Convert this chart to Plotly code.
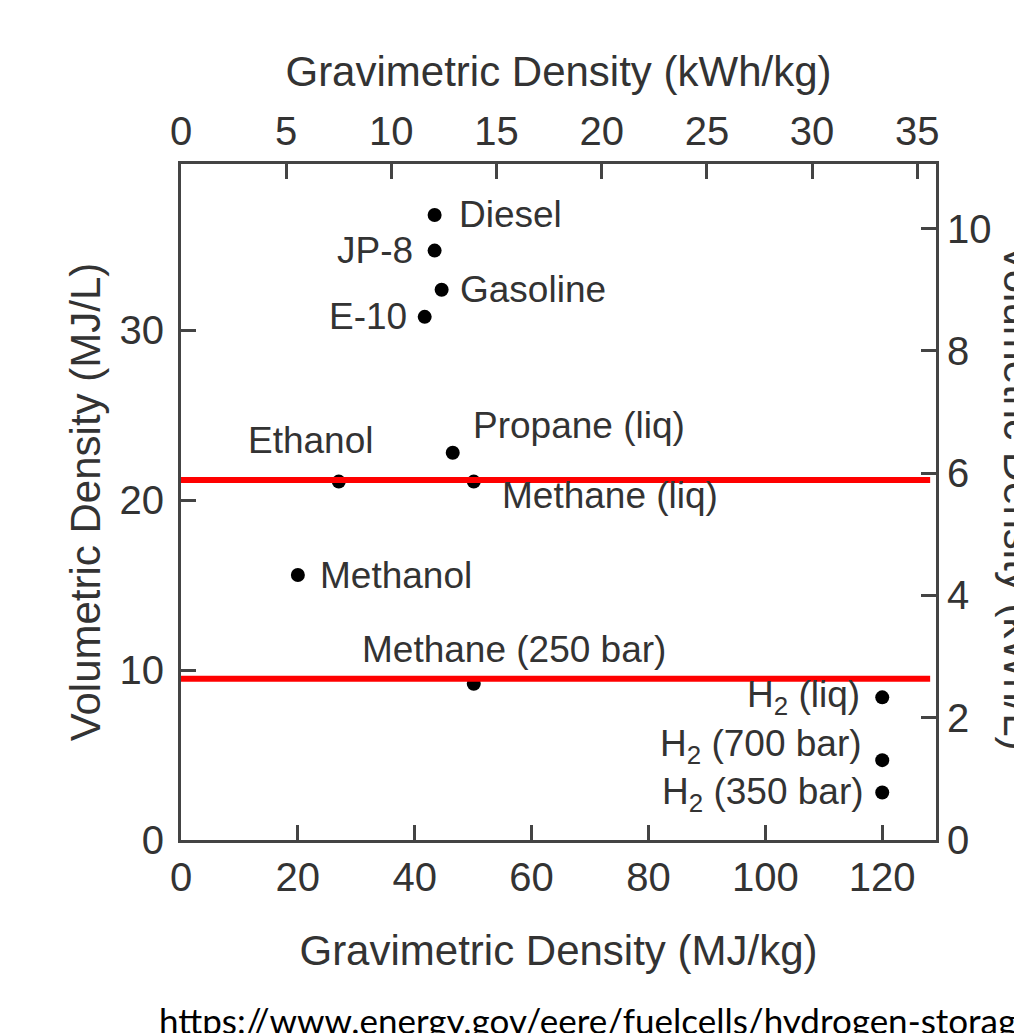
import plotly.graph_objects as go

# ---- data ----
fuels = ["Diesel", "JP-8", "Gasoline", "E-10", "Propane (liq)", "Ethanol",
         "Methane (liq)", "Methanol", "Methane (250 bar)",
         "H<sub>2</sub> (liq)", "H<sub>2</sub> (700 bar)", "H<sub>2</sub> (350 bar)"]
grav_mj_kg = [43.4, 43.4, 44.6, 41.7, 46.5, 27.0, 50.1, 20.0, 50.1, 120.0, 120.0, 120.0]
vol_mj_l = [36.8, 34.7, 32.4, 30.8, 22.8, 21.1, 21.1, 15.6, 9.2, 8.4, 4.7, 2.8]

ref_line_levels = [21.2, 9.5]      # MJ/L
ref_line_extent = [0.0, 128.2]     # MJ/kg

x_ticks = [0, 20, 40, 60, 80, 100, 120]
x2_ticks = [0, 5, 10, 15, 20, 25, 30, 35]
y_ticks = [0, 10, 20, 30]
y2_ticks = [0, 2, 4, 6, 8, 10]

MJ_PER_KWH = 3.6
X_MAX = 129.2
Y_MAX = 39.8

# label placement (anchor, xshift, yshift) per fuel
label_pos = [
    ("left", 22, 0), ("right", -20, 0), ("left", 16, 0), ("right", -16, 0),
    ("left", 18, 27), ("center", -28, 41), ("left", 26, -14), ("left", 20, 0),
    ("center", 40, 34), ("right", -20, 0), ("right", -18, 14), ("right", -16, -2),
]

FONT = "Arial"
TXT = "#333333"
AX = "#444444"

fig = go.Figure()

fig.add_trace(go.Scatter(
    x=grav_mj_kg, y=vol_mj_l, mode="markers",
    marker=dict(color="black", size=14), hoverinfo="skip", showlegend=False,
))
# invisible trace to activate secondary axes
fig.add_trace(go.Scatter(
    x=[v / MJ_PER_KWH for v in grav_mj_kg], y=[v / MJ_PER_KWH for v in vol_mj_l],
    xaxis="x2", yaxis="y2", mode="markers", marker=dict(opacity=0),
    hoverinfo="skip", showlegend=False,
))
for lvl in ref_line_levels:
    fig.add_trace(go.Scatter(
        x=ref_line_extent, y=[lvl, lvl], mode="lines",
        line=dict(color="#ff0000", width=6), hoverinfo="skip", showlegend=False,
    ))

for name, gx, vy, (anc, xs, ys) in zip(fuels, grav_mj_kg, vol_mj_l, label_pos):
    fig.add_annotation(x=gx, y=vy, text=name, showarrow=False,
                       xanchor=anc, yanchor="middle", xshift=xs, yshift=ys,
                       font=dict(family=FONT, size=37, color=TXT))

axis_common = dict(showline=True, linecolor=AX, linewidth=3, ticks="inside",
                   ticklen=15, tickwidth=3, tickcolor=AX, showgrid=False,
                   zeroline=False, tickfont=dict(family=FONT, size=40, color=TXT))

fig.update_layout(
    width=1022, height=1033, autosize=False,
    margin=dict(l=173, r=94, t=156, b=201),
    plot_bgcolor="white", paper_bgcolor="white",
    xaxis=dict(range=[0, X_MAX], tickvals=x_ticks, **axis_common,
               title=dict(text="Gravimetric Density (MJ/kg)", standoff=38,
                          font=dict(family=FONT, size=42, color=TXT))),
    xaxis2=dict(range=[0, X_MAX / MJ_PER_KWH], tickvals=x2_ticks, overlaying="x",
                side="top", anchor="y", **axis_common,
                title=dict(text="Gravimetric Density (kWh/kg)", standoff=10,
                           font=dict(family=FONT, size=42, color=TXT))),
    yaxis=dict(range=[0, Y_MAX], tickvals=y_ticks, ticklabelstandoff=6, **axis_common,
               title=dict(text="Volumetric Density (MJ/L)", standoff=6,
                          font=dict(family=FONT, size=42, color=TXT))),
    yaxis2=dict(range=[0, Y_MAX / MJ_PER_KWH], tickvals=y2_ticks, overlaying="y",
                side="right", anchor="x", **axis_common),
)

fig.add_annotation(xref="paper", yref="paper", x=1.144, y=0.507,
                   text="Volumetric Density (kWh/L)", textangle=90, showarrow=False,
                   font=dict(family=FONT, size=42, color=TXT))

fig.add_annotation(xref="paper", yref="paper", x=-0.032, y=-0.266, xanchor="left",
                   yanchor="middle", text="https://www.energy.gov/eere/fuelcells/hydrogen-storage",
                   showarrow=False, font=dict(family="Lato, Carlito, sans-serif", size=35, color="black"))

fig.write_html("out.html")
